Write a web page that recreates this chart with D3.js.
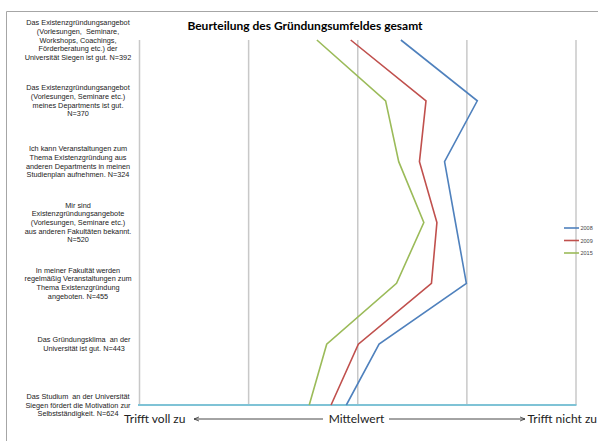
<!DOCTYPE html>
<html>
<head>
<meta charset="utf-8">
<script src="https://cdn.jsdelivr.net/npm/d3@7"></script>
<style>
  html, body { margin: 0; padding: 0; background: #fff; }
  svg { display: block; }
</style>
</head>
<body>
<svg id="chart" width="598" height="441"></svg>
<script>
// Survey statements (one entry per line of the wrapped label)
const statements = [
  ["Das Existenzgründungsangebot", "(Vorlesungen,  Seminare,", "Workshops, Coachings,", "Förderberatung etc.) der", "Universität Siegen ist gut. N=392"],
  ["Das Existenzgründungsangebot", "(Vorlesungen, Seminare etc.)", "meines Departments ist gut.", "N=370"],
  ["Ich kann Veranstaltungen zum", "Thema Existenzgründung aus", "anderen Departments in meinen", "Studienplan aufnehmen. N=324"],
  ["Mir sind", "Existenzgründungsangebote", "(Vorlesungen, Seminare etc.)", "aus anderen Fakultäten bekannt.", "N=520"],
  ["In meiner Fakultät werden", "regelmäßig Veranstaltungen zum", "Thema Existenzgründung", "angeboten. N=455"],
  ["Das Gründungsklima  an der", "Universität ist gut. N=443"],
  ["Das Studium  an der Universität", "Siegen fördert die Motivation zur", "Selbstständigkeit. N=624"]
];

// Survey years and mean ratings per statement (1 = trifft voll zu, 5 = trifft nicht zu)
const years = ["2008", "2009", "2015"];
const means2008 = [3.40, 4.10, 3.80, 3.90, 4.00, 3.20, 2.90];
const means2009 = [2.94, 3.63, 3.57, 3.73, 3.68, 3.01, 2.76];
const means2015 = [2.63, 3.26, 3.38, 3.61, 3.36, 2.72, 2.56];
const scaleTicks = [1, 2, 3, 4, 5];

const seriesValues = [means2008, means2009, means2015];
const seriesColors = ["#4f81bd", "#c0504d", "#9bbb59"];

const svg = d3.select("#chart");

const plot = { left: 139, right: 575.5, top: 40, bottom: 405 };

const x = d3.scaleLinear().domain([1, 5]).range([plot.left, plot.right]);
const y = d3.scalePoint().domain(d3.range(statements.length)).range([plot.top, plot.bottom]);

// Outer frame (top and left edges)
svg.append("path")
  .attr("d", "M6.5,441 V11.5 H598")
  .attr("fill", "none")
  .attr("stroke", "#a6a6a6")
  .attr("stroke-width", 1);

// Title
svg.append("text")
  .attr("x", 305)
  .attr("y", 30)
  .attr("text-anchor", "middle")
  .attr("font-family", "Lato, 'Open Sans', sans-serif")
  .attr("font-weight", "bold")
  .attr("font-size", 12)
  .attr("fill", "#000")
  .text("Beurteilung des Gründungsumfeldes gesamt");

// Vertical gridlines
const grid = svg.append("g")
  .attr("transform", `translate(0,${plot.top})`)
  .call(d3.axisBottom(x).tickValues(scaleTicks).tickSize(plot.bottom - plot.top).tickFormat(""));
grid.select(".domain").remove();
grid.selectAll(".tick line").attr("stroke", "#c8c8c8").attr("stroke-width", 1.5);

// Baseline
svg.append("line")
  .attr("x1", plot.left - 1).attr("x2", plot.right + 1)
  .attr("y1", plot.bottom).attr("y2", plot.bottom)
  .attr("stroke", "#7fc3d6")
  .attr("stroke-width", 2);

// Statement labels
const labels = svg.append("g")
  .attr("font-family", "'Liberation Sans', Arial, sans-serif")
  .attr("font-size", 7.3)
  .attr("fill", "#222");
const lineH = 8.7;
statements.forEach((lines, i) => {
  const cx = i === 5 ? 84 : 78;
  const y0 = y(i) + 2.5 - (lines.length - 1) * lineH / 2;
  const t = labels.append("text")
    .attr("text-anchor", "middle")
    .attr("x", cx)
    .attr("y", y0);
  lines.forEach((ln, k) => {
    t.append("tspan").attr("x", cx).attr("y", y0 + k * lineH).attr("xml:space", "preserve").text(ln);
  });
});

// Series lines
const line = d3.line()
  .x(d => x(d))
  .y((d, i) => y(i));
seriesValues.forEach((vals, s) => {
  svg.append("path")
    .datum(vals)
    .attr("d", line)
    .attr("fill", "none")
    .attr("stroke", seriesColors[s])
    .attr("stroke-width", 1.6)
    .attr("stroke-linejoin", "miter");
});

// Legend
const legend = svg.append("g")
  .attr("font-family", "'Liberation Sans', Arial, sans-serif")
  .attr("font-size", 5.5)
  .attr("fill", "#444");
years.forEach((yr, i) => {
  const ly = 228 + i * 12.5;
  legend.append("line")
    .attr("x1", 564).attr("x2", 579)
    .attr("y1", ly).attr("y2", ly)
    .attr("stroke", seriesColors[i])
    .attr("stroke-width", 1.6);
  legend.append("text")
    .attr("x", 580.5)
    .attr("y", ly + 2)
    .text(yr);
});

// Bottom scale annotation with arrows
const note = svg.append("g")
  .attr("font-family", "Lato, 'Open Sans', sans-serif")
  .attr("font-size", 12)
  .attr("fill", "#222");
const noteY = 423;
svg.append("defs").append("marker")
  .attr("id", "arrowhead")
  .attr("viewBox", "0 0 10 10")
  .attr("refX", 10).attr("refY", 5)
  .attr("markerWidth", 6).attr("markerHeight", 6)
  .attr("orient", "auto-start-reverse")
  .append("path")
  .attr("d", "M0,1 L10,5 L0,9")
  .attr("fill", "none")
  .attr("stroke", "#333")
  .attr("stroke-width", 1.5);

note.append("text").attr("x", 124).attr("y", noteY).text("Trifft voll zu");
note.append("text").attr("x", 356.5).attr("y", noteY).attr("text-anchor", "middle").text("Mittelwert");
note.append("text").attr("x", 597).attr("y", noteY).attr("text-anchor", "end").text("Trifft nicht zu");

note.append("line")
  .attr("x1", 323).attr("x2", 194)
  .attr("y1", noteY - 4).attr("y2", noteY - 4)
  .attr("stroke", "#333").attr("stroke-width", 0.9)
  .attr("marker-end", "url(#arrowhead)");
note.append("line")
  .attr("x1", 389).attr("x2", 525)
  .attr("y1", noteY - 4).attr("y2", noteY - 4)
  .attr("stroke", "#333").attr("stroke-width", 0.9)
  .attr("marker-end", "url(#arrowhead)");
</script>
</body>
</html>
